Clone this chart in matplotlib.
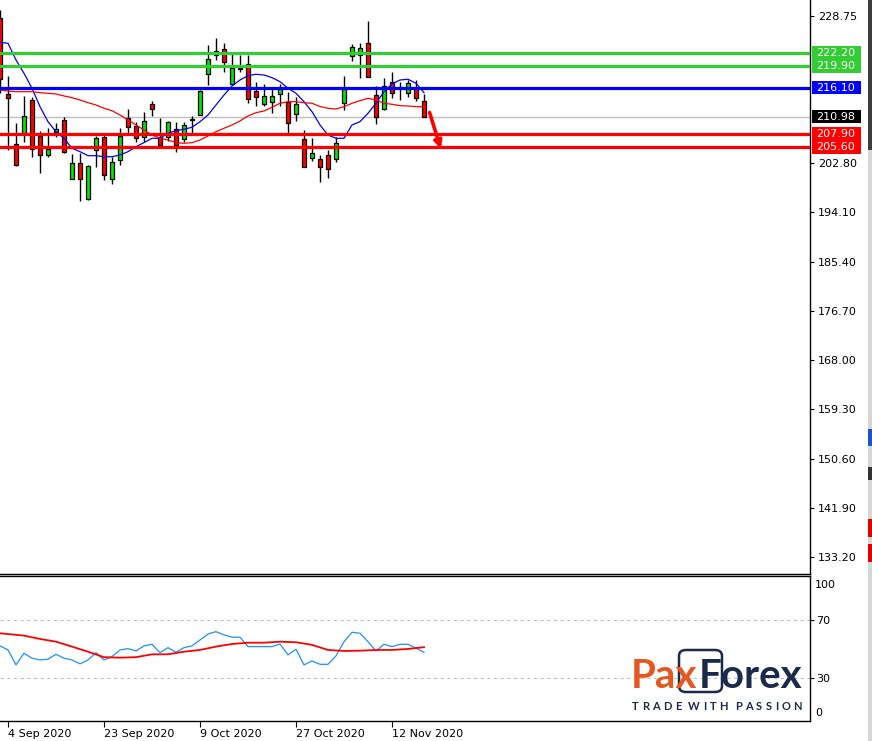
import numpy as np
import matplotlib
matplotlib.use("Agg")
import matplotlib.pyplot as plt
from matplotlib.patches import Rectangle, FancyBboxPatch
from matplotlib.transforms import blended_transform_factory

W, H = 872, 741

# daily candles, 3 Sep 2020 .. 18 Nov 2020
opens = [228.40, 214.93, 206.10, 208.04, 213.92, 207.57, 204.27, 208.22, 210.39, 199.92,
         202.75, 196.50, 205.10, 207.45, 199.92, 203.33, 210.69, 209.28, 207.34, 213.16,
         207.34, 207.34, 208.80, 206.99, 210.45, 211.22, 218.46, 221.87, 222.87, 216.75,
         219.45, 220.22, 215.51, 213.16, 213.62, 214.93, 213.52, 211.40, 207.04, 203.63,
         203.51, 204.21, 203.45, 213.34, 221.69, 221.87, 223.93, 214.80, 212.28, 217.15,
         216.20, 215.11, 215.99, 213.75]
highs = [229.80, 218.16, 209.81, 214.63, 214.40, 208.45, 209.03, 209.81, 211.00, 204.34,
         204.51, 202.40, 207.57, 207.75, 203.91, 208.98, 212.33, 209.99, 211.80, 213.75,
         210.74, 210.20, 209.99, 209.99, 211.10, 215.70, 223.63, 224.81, 223.98, 222.17,
         221.87, 221.87, 217.05, 216.75, 215.81, 216.75, 215.39, 214.40, 208.63, 207.22,
         204.21, 205.10, 207.45, 218.16, 223.81, 223.93, 227.87, 216.39, 217.75, 218.81,
         217.15, 217.45, 217.45, 214.98]
lows = [215.20, 205.09, 202.27, 206.56, 203.91, 201.09, 203.91, 207.45, 204.60, 199.90,
        196.15, 196.27, 202.04, 199.80, 199.10, 202.40, 208.04, 206.56, 206.56, 211.10,
        206.00, 206.74, 204.80, 206.56, 208.15, 211.20, 216.57, 220.98, 218.92, 216.57,
        218.92, 213.45, 212.92, 212.92, 211.57, 212.92, 208.15, 210.22, 202.04, 203.21,
        199.50, 200.10, 203.03, 212.16, 220.86, 217.75, 217.90, 209.63, 212.20, 214.22,
        213.92, 214.40, 213.80, 210.98]
closes = [217.60, 214.22, 202.40, 211.10, 205.22, 204.16, 205.22, 208.80, 204.69, 202.75,
          199.92, 202.27, 207.16, 200.63, 202.93, 207.57, 209.10, 207.16, 210.22, 212.28,
          206.03, 209.99, 205.93, 209.51, 210.55, 215.51, 221.11, 222.62, 220.58, 219.52,
          219.60, 214.05, 214.40, 214.63, 214.63, 215.92, 209.92, 213.16, 202.15, 204.51,
          202.15, 201.80, 206.28, 215.81, 223.22, 223.05, 217.93, 210.87, 216.39, 215.11,
          216.10, 216.98, 214.22, 210.98]

ma_fast = [224.11, 223.93, 220.98, 218.64, 215.99, 212.74, 210.09, 208.33, 207.16, 205.40,
           204.80, 204.09, 204.09, 203.91, 203.91, 204.21, 204.80, 205.68, 206.39, 207.16,
           207.16, 208.04, 208.50, 208.75, 209.10, 210.09, 211.27, 213.04, 214.80, 216.39,
           217.45, 218.21, 218.46, 218.33, 217.86, 217.15, 215.99, 215.10, 213.62, 211.86,
           209.51, 207.74, 207.16, 207.16, 209.51, 210.09, 211.57, 213.34, 215.39, 216.75,
           217.45, 217.58, 216.87, 215.21]
ma_slow = [215.69, 215.51, 215.39, 215.39, 215.39, 215.21, 215.10, 214.98, 214.63, 214.33,
           213.92, 213.45, 213.04, 212.46, 212.03, 211.27, 210.39, 209.51, 208.63, 207.74,
           207.16, 206.86, 206.39, 206.28, 206.39, 206.86, 207.57, 208.33, 208.93, 209.51,
           210.22, 211.10, 211.68, 211.98, 212.63, 213.34, 213.62, 213.62, 213.45, 213.34,
           212.77, 212.46, 212.33, 212.74, 213.34, 213.80, 214.22, 213.92, 213.34, 213.16,
           212.92, 212.86, 212.74, 212.74]

levels_green = [222.20, 219.90]
level_blue = 216.10
levels_red = [207.90, 205.60]
last_price = 210.98

price_ticks = [228.75, 202.80, 194.10, 185.40, 176.70, 168.00, 159.30, 150.60, 141.90, 133.20]

rsi = [52.1, 49.3, 39.0, 47.0, 43.6, 42.4, 42.9, 46.3, 43.6, 42.4,
       39.7, 42.4, 47.4, 42.4, 44.7, 49.3, 50.2, 48.6, 52.1, 53.2,
       47.4, 50.9, 47.7, 50.9, 52.1, 56.2, 60.3, 61.9, 59.7, 58.1,
       58.1, 51.6, 51.6, 51.6, 51.6, 53.4, 45.9, 49.8, 39.0, 41.7,
       39.4, 39.4, 45.2, 55.0, 61.5, 60.8, 55.0, 48.6, 53.2, 51.6,
       53.2, 53.2, 50.5, 47.7]
rsi_signal_idx = [0, 3, 5, 7, 9, 11, 13, 15, 17, 19, 21, 23, 25, 27, 29, 31, 33, 35,
                  37, 39, 41, 43, 45, 47, 49, 51, 53]
rsi_signal = [60.8, 59.2, 56.9, 55.0, 51.6, 48.1, 44.3, 44.0, 44.3, 46.3, 46.3, 48.1,
              49.3, 51.6, 53.4, 54.3, 54.3, 55.0, 54.6, 52.8, 49.3, 48.6, 48.8, 49.3,
              49.3, 50.0, 51.2]

date_idx = [1, 13, 25, 37, 49]
date_labels = ["4 Sep 2020", "23 Sep 2020", "9 Oct 2020", "27 Oct 2020", "12 Nov 2020"]

GREEN_LVL = "#32cd32"
BLUE_LVL = "#0000ff"
RED_LVL = "#ff0000"
BULL = "#00e600"
BEAR = "#ff0000"


def fx(x):
    return x / W


def fy(y):
    return 1 - y / H


fig = plt.figure(figsize=(W / 100, H / 100), dpi=100)
plt.rcParams["font.family"] = "DejaVu Sans"

ax = fig.add_axes([0, fy(574), fx(810), (574) / H])
ax2 = fig.add_axes([0, fy(721), fx(810), (721 - 576) / H])

# --- price panel ---
x = np.arange(len(opens))
o = np.array(opens)
c = np.array(closes)
colors = [BULL if cc >= oo else BEAR for oo, cc in zip(o, c)]
ax.vlines(x, lows, highs, color="black", lw=1.0, zorder=2)
body_lo = np.minimum(o, c)
body_h = np.maximum(np.abs(c - o), 0.12)
ax.bar(x, body_h, bottom=body_lo, width=0.62, color=colors, edgecolor="black",
       linewidth=0.9, zorder=3)

ax.plot(x, ma_fast, color="#0000ff", lw=0.9, zorder=4)
ax.plot(x, ma_slow, color="#ff0000", lw=0.9, zorder=4)

ax.axhline(last_price, color="#c0c0c0", lw=1.0, zorder=1)
for lv in levels_green:
    ax.axhline(lv, color=GREEN_LVL, lw=2.3, zorder=5)
ax.axhline(level_blue, color=BLUE_LVL, lw=2.3, zorder=5)
for lv in levels_red:
    ax.axhline(lv, color=RED_LVL, lw=2.3, zorder=5)

ax.annotate("", xy=(55.1, 205.3), xytext=(53.7, 211.7),
            arrowprops=dict(arrowstyle="-|>", color=RED_LVL, lw=2.6,
                            mutation_scale=11, shrinkA=0, shrinkB=0), zorder=6)

ax.set_xlim(0, 101.25)
ax.set_ylim(130.25, 231.57)
ax.yaxis.tick_right()
ax.set_yticks(price_ticks)
ax.set_yticklabels([f"{v:.2f}" for v in price_ticks])
ax.tick_params(axis="y", direction="out", length=3, width=0.8, pad=2.5,
               labelsize=8, colors="black")
ax.set_xticks([])
for side in ("left", "top"):
    ax.spines[side].set_visible(False)
for side in ("right", "bottom"):
    ax.spines[side].set_linewidth(1.0)

# coloured price tags on the right scale
tr = blended_transform_factory(ax.transAxes, ax.transData)
tags = [
    (min(levels_green) - 1.2, max(levels_green) + 1.2, GREEN_LVL, levels_green),
    (level_blue - 1.15, level_blue + 1.15, BLUE_LVL, [level_blue]),
    (last_price - 1.1, last_price + 1.1, "black", [last_price]),
    (min(levels_red) - 1.2, max(levels_red) + 1.2, RED_LVL, levels_red),
]
for lo, hi, col, vals in tags:
    ax.add_patch(Rectangle((1.0025, lo), 0.0605, hi - lo, transform=tr,
                           facecolor=col, edgecolor="none", clip_on=False, zorder=6))
    for v in vals:
        ax.text(1.0075, v, f"{v:.2f}", transform=tr, color="white", fontsize=8,
                va="center", ha="left", zorder=7, clip_on=False)

# --- oscillator panel ---
ax2.axhline(70, color="#c0c0c0", lw=0.8, ls=(0, (3, 3)))
ax2.axhline(30, color="#c0c0c0", lw=0.8, ls=(0, (3, 3)))
ax2.plot(x, rsi, color="#1e90ff", lw=0.9)
ax2.plot(rsi_signal_idx, rsi_signal, color="#ff0000", lw=1.3)
ax2.set_xlim(0, 101.25)
ax2.set_ylim(0.3, 100.3)
ax2.yaxis.tick_right()
ax2.set_yticks([70, 30])
ax2.tick_params(axis="y", direction="out", length=3, width=0.8, pad=1.5,
                labelsize=8, colors="black")
ytr = ax2.get_yaxis_transform()
ax2.text(1.006, 94.2, "100", transform=ytr, fontsize=8, va="center", ha="left")
ax2.text(1.006, 5.9, "0", transform=ytr, fontsize=8, va="center", ha="left")
ax2.set_xticks(date_idx)
ax2.set_xticklabels(date_labels)
ax2.tick_params(axis="x", direction="out", length=4, width=0.8, pad=2, labelsize=8)
for lbl in ax2.get_xticklabels():
    lbl.set_ha("left")
ax2.spines["left"].set_visible(False)
for side in ("right", "bottom", "top"):
    ax2.spines[side].set_linewidth(1.0)

# --- PaxForex watermark ---
ORANGE = "#e4571f"
NAVY = "#1b2a4a"
fig.text(fx(631), fy(688), "Pax", color=ORANGE, fontsize=29, fontweight="bold",
         family="Lato", ha="left", va="baseline")
fig.text(fx(699), fy(688), "Forex", color=NAVY, fontsize=29, fontweight="bold",
         family="Lato", ha="left", va="baseline")
fig.add_artist(FancyBboxPatch((fx(679), fy(692)), fx(722) - fx(679), fy(650) - fy(692),
                              boxstyle="round,pad=0,rounding_size=0.008",
                              transform=fig.transFigure, facecolor="none",
                              edgecolor=NAVY, lw=1.8))

# slogan: letters spread evenly over the logo width
slogan = "TRADE WITH PASSION"
renderer = fig.canvas.get_renderer()
widths = []
for ch in slogan:
    if ch == " ":
        widths.append(0.0)
        continue
    t = fig.text(0, 0, ch, fontsize=8, fontweight="bold", family="Lato")
    widths.append(t.get_window_extent(renderer).width)
    t.remove()
gap = (802 - 632 - sum(widths)) / (len(slogan) - 1)
pos = 632.0
for ch, w in zip(slogan, widths):
    if ch != " ":
        fig.text(fx(pos), fy(706.5), ch, color=NAVY, fontsize=8, fontweight="bold",
                 family="Lato", ha="left", va="center")
    pos += w + gap

# --- right-hand strip of the terminal window ---
fig.add_artist(Rectangle((fx(868), fy(150)), fx(4), 150 / H, transform=fig.transFigure,
                         facecolor="#3c3c3c", edgecolor="none"))
fig.add_artist(Rectangle((fx(868), 0), fx(4), fy(150), transform=fig.transFigure,
                         facecolor="#d6d6d6", edgecolor="none"))
for y0, y1, col in [(429, 446, "#2050d0"), (467, 480, "#333333"),
                    (519, 537, "#e00000"), (544, 562, "#e00000")]:
    fig.add_artist(Rectangle((fx(868), fy(y1)), fx(4), (y1 - y0) / H,
                             transform=fig.transFigure, facecolor=col, edgecolor="none"))

fig.savefig("out.png", dpi=100, facecolor="white")
